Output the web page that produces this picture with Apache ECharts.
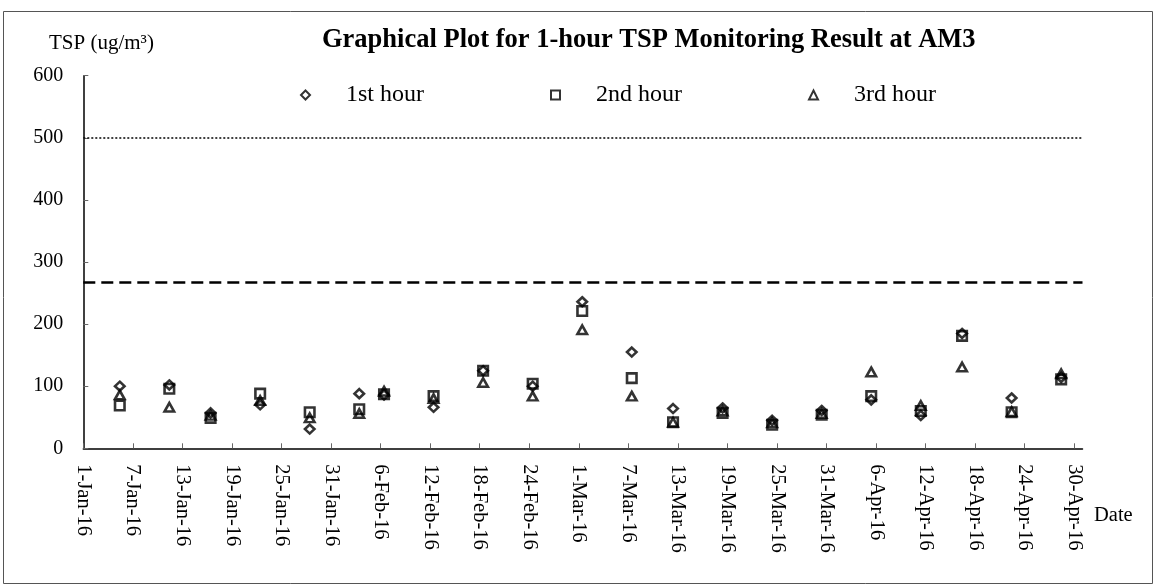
<!DOCTYPE html>
<html>
<head>
<meta charset="utf-8">
<script src="https://cdn.jsdelivr.net/npm/echarts@6/dist/echarts.min.js"></script>
<style>
  html, body { margin: 0; padding: 0; background: #fff; }
  #chart { width: 1157px; height: 585px; }
</style>
</head>
<body>
<div id="chart"></div>
<script>
// sampling date/time of each 1-hour TSP set at AM3
const sampleTimes = [
  '2016-01-05T10:00', '2016-01-11T10:00', '2016-01-16T10:00', '2016-01-22T10:00',
  '2016-01-28T10:00', '2016-02-03T10:00', '2016-02-06T10:00', '2016-02-12T10:00',
  '2016-02-18T10:00', '2016-02-24T10:00', '2016-03-01T10:00', '2016-03-07T10:00',
  '2016-03-12T10:00', '2016-03-18T10:00', '2016-03-24T10:00', '2016-03-30T10:00',
  '2016-04-05T10:00', '2016-04-11T10:00', '2016-04-16T10:00', '2016-04-22T10:00',
  '2016-04-28T10:00'
]
const hour1 = [100, 102, 57, 70, 31, 88, 86, 66, 125, 100, 236, 155, 64, 65, 45, 61, 78, 53, 185, 81, 114]
const hour2 = [69, 96, 49, 88, 58, 63, 87, 84, 125, 104, 221, 113, 42, 57, 38, 54, 84, 60, 181, 58, 111]
const hour3 = [86, 66, 53, 77, 49, 56, 92, 80, 106, 84, 191, 84, 42, 60, 41, 56, 123, 69, 131, 59, 120]

const actionLevel = 268
const limitLevel = 500

const xTickLabels = [
  '1-Jan-16', '7-Jan-16', '13-Jan-16', '19-Jan-16', '25-Jan-16', '31-Jan-16',
  '6-Feb-16', '12-Feb-16', '18-Feb-16', '24-Feb-16', '1-Mar-16', '7-Mar-16',
  '13-Mar-16', '19-Mar-16', '25-Mar-16', '31-Mar-16', '6-Apr-16', '12-Apr-16',
  '18-Apr-16', '24-Apr-16', '30-Apr-16'
]
const xEndLabel = '1-May-16'

const MONTHS = ['Jan', 'Feb', 'Mar', 'Apr', 'May', 'Jun', 'Jul', 'Aug', 'Sep', 'Oct', 'Nov', 'Dec']
const DAY = 86400000
const origin = Date.UTC(2016, 0, 1)

// days since 1-Jan-16
function labelToDay(s) {
  const p = s.split('-')
  return (Date.UTC(2000 + Number(p[2]), MONTHS.indexOf(p[1]), Number(p[0])) - origin) / DAY
}
function timeToDay(s) {
  return (Date.parse(s + 'Z') - origin) / DAY
}

const tickDays = xTickLabels.map(labelToDay)
const labelByDay = {}
tickDays.forEach((d, i) => { labelByDay[d] = xTickLabels[i] })

const toPoints = (vals) => vals.map((v, i) => [timeToDay(sampleTimes[i]), v])

const font = 'Liberation Serif'
const black = '#000'

const chart = echarts.init(document.getElementById('chart'))

const markerStyle = {
  color: 'rgba(0,0,0,0)',
  borderColor: black,
  borderWidth: 2.6
}

function legendAt(name, icon, left) {
  return {
    data: [{ name: name, icon: icon }],
    left: left,
    top: 78,
    itemWidth: 9,
    itemHeight: 9,
    selectedMode: false,
    textStyle: { fontFamily: font, fontSize: 24, color: black, padding: [0, 0, 0, 31] }
  }
}

const option = {
  animation: false,
  backgroundColor: '#fff',
  title: {
    text: 'Graphical Plot for 1-hour TSP Monitoring Result at AM3',
    left: 317,
    top: 22,
    textStyle: { fontFamily: font, fontSize: 26.5, fontWeight: 'bold', color: black }
  },
  legend: [
    legendAt('1st hour', 'diamond', 295),
    legendAt('2nd hour', 'rect', 545),
    legendAt('3rd hour', 'triangle', 803)
  ],
  grid: { left: 83.3, right: 74.5, top: 75.7, bottom: 136.7 },
  xAxis: {
    type: 'value',
    min: 0,
    max: labelToDay(xEndLabel),
    interval: 6,
    splitLine: { show: false },
    axisLine: { lineStyle: { color: black, width: 1.5 } },
    axisTick: { inside: true, length: 5, customValues: tickDays, lineStyle: { color: '#666', width: 1 } },
    axisLabel: {
      customValues: tickDays,
      rotate: -90,
      margin: 16,
      fontFamily: font,
      fontSize: 20.5,
      color: black,
      formatter: (v) => labelByDay[v] || ''
    }
  },
  yAxis: {
    type: 'value',
    min: 0,
    max: 600,
    interval: 100,
    splitLine: { show: false },
    axisLine: { show: true, lineStyle: { color: black, width: 1.5 } },
    axisTick: { show: true, inside: true, length: 5, lineStyle: { color: '#666', width: 1 } },
    axisLabel: { margin: 20, fontFamily: font, fontSize: 20, color: black }
  },
  graphic: [
    {
      type: 'rect',
      shape: { x: 3.5, y: 11.5, width: 1149, height: 572 },
      style: { fill: 'none', stroke: '#555', lineWidth: 1 },
      silent: true
    },
    {
      type: 'text',
      x: 49,
      y: 43,
      style: {
        text: 'TSP (ug/m³)',
        font: '21px "Liberation Serif"',
        fill: black,
        textAlign: 'left',
        textVerticalAlign: 'middle'
      }
    },
    {
      type: 'text',
      x: 1094,
      y: 516,
      style: {
        text: 'Date',
        font: '20.5px "Liberation Serif"',
        fill: black,
        textAlign: 'left',
        textVerticalAlign: 'middle'
      }
    }
  ],
  series: [
    {
      name: '1st hour',
      type: 'scatter',
      symbol: 'diamond',
      symbolSize: [9.5, 9],
      itemStyle: markerStyle,
      data: toPoints(hour1),
      z: 3,
      markLine: {
        silent: true,
        symbol: 'none',
        label: { show: false },
        data: [
          { yAxis: limitLevel, lineStyle: { color: black, type: [2, 2], width: 1.5 } },
          { yAxis: actionLevel, lineStyle: { color: black, type: [12, 6], width: 2.5 } }
        ]
      }
    },
    {
      name: '2nd hour',
      type: 'scatter',
      symbol: 'rect',
      symbolSize: [9.5, 9.5],
      itemStyle: markerStyle,
      data: toPoints(hour2),
      z: 3
    },
    {
      name: '3rd hour',
      type: 'scatter',
      symbol: 'triangle',
      symbolSize: [9.5, 8.5],
      itemStyle: markerStyle,
      data: toPoints(hour3),
      z: 3
    }
  ]
}

chart.setOption(option)
</script>
</body>
</html>
